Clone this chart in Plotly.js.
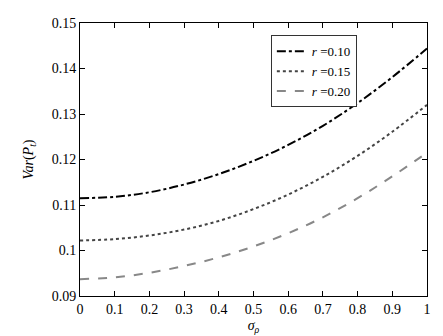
<!DOCTYPE html>
<html><head><meta charset="utf-8">
<script src="https://cdn.plot.ly/plotly-3.0.1.min.js"></script>
</head><body style="margin:0"><div id="c"></div>
<script>
var sigma = [0, 0.1, 0.2, 0.3, 0.4, 0.5, 0.6, 0.7, 0.8, 0.9, 1.0];
var r010 = [0.1115, 0.1118, 0.1128, 0.1145, 0.1168, 0.1197, 0.1232, 0.1274, 0.1324, 0.1381, 0.1444];
var r015 = [0.1022, 0.1025, 0.1033, 0.1046, 0.1065, 0.1091, 0.1123, 0.1162, 0.1208, 0.1261, 0.1320];
var r020 = [0.0937, 0.0941, 0.0951, 0.0966, 0.0985, 0.1009, 0.1038, 0.1073, 0.1115, 0.1163, 0.1215];
var names = ['<i>r</i> =0.10', '<i>r</i> =0.15', '<i>r</i> =0.20'];
var xTicks = [0, 0.1, 0.2, 0.3, 0.4, 0.5, 0.6, 0.7, 0.8, 0.9, 1];
var xTickText = ['0', '0.1', '0.2', '0.3', '0.4', '0.5', '0.6', '0.7', '0.8', '0.9', '1'];
var yTicks = [0.09, 0.10, 0.11, 0.12, 0.13, 0.14, 0.15];
var yTickText = ['0.09', '0.1', '0.11', '0.12', '0.13', '0.14', '0.15'];

function F(size) { return {family: 'Times New Roman', size: size, color: '#000'}; }
var traces = [
  {x: sigma, y: r010, name: names[0], mode: 'lines', line: {color: '#000', width: 2, dash: 'dashdot', shape: 'spline'}},
  {x: sigma, y: r015, name: names[1], mode: 'lines', line: {color: '#444', width: 2, dash: 'dot', shape: 'spline'}},
  {x: sigma, y: r020, name: names[2], mode: 'lines', line: {color: '#888', width: 2, dash: 'dash', shape: 'spline'}}
];
function axis(extra) {
  var a = {showgrid: false, zeroline: false, showline: true, linecolor: '#000', linewidth: 1,
    mirror: 'ticks', ticks: 'inside', ticklen: 5, tickcolor: '#000', tickfont: F(14)};
  for (var k in extra) a[k] = extra[k];
  return a;
}
var layout = {
  width: 443, height: 336,
  margin: {l: 80, r: 16, t: 23, b: 40},
  paper_bgcolor: '#fff', plot_bgcolor: '#fff',
  font: F(14),
  showlegend: true,
  legend: {x: 0.55, y: 0.955, xanchor: 'left', yanchor: 'top', bgcolor: '#fff',
    bordercolor: '#333', borderwidth: 1, font: F(13), tracegroupgap: 0, itemwidth: 30},
  xaxis: axis({range: [0, 1], tickvals: xTicks, ticktext: xTickText,
    title: {text: '<i>σ<sub>ρ</sub></i>', font: F(14), standoff: 4}}),
  yaxis: axis({range: [0.09, 0.15], tickvals: yTicks, ticktext: yTickText,
    title: {text: '<i>Var</i>(<i>P<sub>t</sub></i>)', font: F(14), standoff: 14}})
};
Plotly.newPlot('c', traces, layout, {displayModeBar: false});
</script></body></html>
